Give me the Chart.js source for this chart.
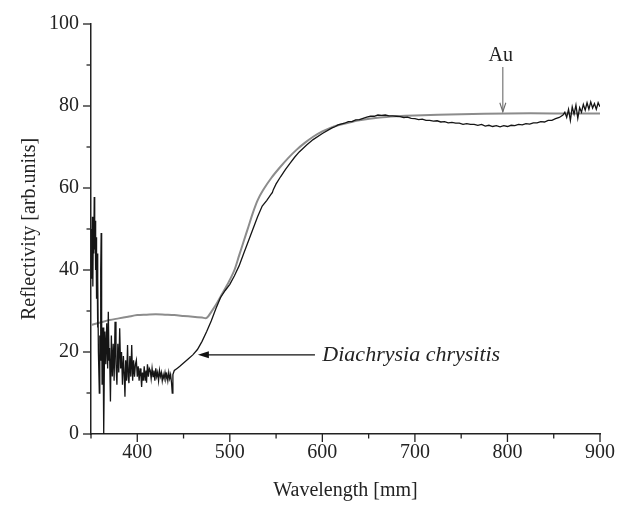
<!DOCTYPE html>
<html>
<head>
<meta charset="utf-8">
<script src="https://cdn.jsdelivr.net/npm/chart.js@4/dist/chart.umd.min.js"></script>
<style>
html,body{margin:0;padding:0;background:#fff;}
#wrap{width:624px;height:505px;position:relative;}
</style>
</head>
<body>
<div id="wrap"><canvas id="c" width="624" height="505"></canvas></div>
<script>
// ---- Data ----
const xAxisTitle = "Wavelength [mm]";
const yAxisTitle = "Reflectivity [arb.units]";
const xTickLabels = [400, 500, 600, 700, 800, 900];
const yTickLabels = [0, 20, 40, 60, 80, 100];

const seriesNames = ["Diachrysia chrysitis", "Au"];

// Diachrysia chrysitis (black, measured)
const wlSample = [
350,350.5,351,351.5,352,352.5,353,353.5,354,354.5,
355,355.5,356,356.5,357,357.5,358,359,359.5,360,
360.5,361,361.5,362,363,363.5,364,364.5,365,366,
367,368,368.7,369.5,370,371,372,373,374,375,
376,377,378,379,380,381,382,383,384,385,
386,386.7,387.5,388.5,389.5,390.3,391,392,393,394,
395,396,397,398,399,400,401,402,403,404,
404.7,405.5,406.5,407.5,408.5,409.5,410,411,412,413,
414,415,416,417,418,419,420,421,422,423,
424,425,426,427,428,429,430,431,432,433,
434,435,436,437,437.8,438.5,440,443,446,450,
455,460,465,470,475,480,485,490,495,500,
505,510,515,520,525,530,535,540,545,546,
547,550,555,560,565,570,575,583,590,600,
610,614,617,620,624,628,632,636,640,644,
648,652,656,660,664,668,672,676,680,684,
688,692,696,700,704,708,712,716,720,724,
728,732,736,740,744,748,752,756,760,764,
768,772,776,780,784,788,792,796,800,804,
808,812,816,820,824,828,832,836,840,844,
848,852,856,860,862,864,866,868,870,872,
874,876,878,880,882,884,886,888,890,892,
894,896,898,900
];
const reflSample = [
38,50,42,53,36,51,44,57.8,45,52,
40,48,33,44,26,38,20,10,24,18,
40,49,28,12,26,14,0,18,25,17,
27,16,29.8,18,21,7.9,24,14,22,13,
27.4,17,12,22,15,25.8,16,20,12,19,
14,9.1,18,13,21.7,14,12.4,19,14,21.7,
13,18,14,17,18,14,16.5,13,16,14,
11.5,15,13,16.5,13,15.5,12.5,17,14,16,
15.5,13.5,16,14,15.5,13,16,14,15,13,
15.5,14,15,13,14.5,13.5,15,13.5,14.5,13,
15,13.5,14.5,12.5,10,14.5,15.5,16,16.5,17.3,
18.3,19.3,20.6,22.6,25,27.6,30.6,33.3,35,36.5,
38.6,41,44,47,50,53,55.6,57,58.6,58.9,
59.6,61,62.8,64.5,66,67.5,68.8,70.5,71.8,73.3,
74.6,75.0,75.4,75.6,75.8,76.2,76.2,76.6,76.7,77.0,
77.3,77.5,77.5,77.8,77.7,77.8,77.6,77.6,77.5,77.4,
77.2,77.3,77.0,76.9,76.7,76.8,76.5,76.5,76.3,76.4,
76.1,76.2,75.9,76.0,75.8,75.8,75.5,75.7,75.5,75.5,
75.3,75.5,75.1,75.3,75.0,75.2,74.9,75.2,75.0,75.3,
75.2,75.5,75.4,75.7,75.6,75.9,75.9,76.2,76.1,76.5,
76.5,76.9,77.2,77.8,78.5,77.2,79.2,76.5,79.8,78,
80.2,77,79.6,78.5,80.4,79,80.8,79.2,81,79.5,
80.6,79.2,80.8,79.8
];

// Au reference (grey)
const wlAu = [350,360,370,380,390,400,410,420,430,440,450,460,470,475,480,485,490,495,500,505,
510,515,520,525,530,536,545,554,563,572,581,590,600,608,617,626,640,662,680,700,750,800,850,900];
const reflAu = [26.6,27.2,27.8,28.2,28.6,29.0,29.1,29.2,29.1,29.0,28.8,28.6,28.4,28.3,29.8,31.5,33.5,35.5,37.6,40,
43.5,47,50.5,54,57,59.5,62.5,65,67.3,69.3,71,72.5,73.8,74.6,75.3,75.8,76.5,77.2,77.5,77.7,78,78.2,78.2,78.2];

// Annotations (data coordinates)
const auLabel = "Au";
const auArrowX = 795, auArrowFrom = 89.5, auArrowTo = 78.6, auLabelY = 92.3;
const sampleLabel = "Diachrysia chrysitis";
const sampleArrowY = 19.3, sampleArrowFrom = 592, sampleArrowTo = 465.5, sampleLabelX = 600;

// ---- Build ----
const pts = (xs, ys) => xs.map((x, i) => ({x: x, y: ys[i]}));
const FONT = "'Liberation Serif','Times New Roman',serif";
const TXT = '#232323';

const tickPlugin = {
  id: 'ticksAndNotes',
  afterDraw(chart) {
    const ctx = chart.ctx;
    const xs = chart.scales.x, ys = chart.scales.y;
    ctx.save();
    ctx.strokeStyle = '#222';
    ctx.lineWidth = 1.3;
    xs.ticks.forEach(t => {
      const px = xs.getPixelForValue(t.value);
      const len = xTickLabels.includes(t.value) ? 8 : 4.5;
      ctx.beginPath(); ctx.moveTo(px, xs.top); ctx.lineTo(px, xs.top + len); ctx.stroke();
    });
    ys.ticks.forEach(t => {
      const py = ys.getPixelForValue(t.value);
      const len = yTickLabels.includes(t.value) ? 8 : 4.5;
      ctx.beginPath(); ctx.moveTo(ys.right, py); ctx.lineTo(ys.right - len, py); ctx.stroke();
    });

    // Au arrow
    const ax = xs.getPixelForValue(auArrowX);
    const ay0 = ys.getPixelForValue(auArrowFrom);
    const ay1 = ys.getPixelForValue(auArrowTo);
    ctx.strokeStyle = '#6a6a6a';
    ctx.lineWidth = 1.1;
    ctx.beginPath(); ctx.moveTo(ax, ay0); ctx.lineTo(ax, ay1); ctx.stroke();
    ctx.beginPath(); ctx.moveTo(ax - 3, ay1 - 9); ctx.lineTo(ax, ay1); ctx.lineTo(ax + 3, ay1 - 9); ctx.stroke();
    ctx.fillStyle = TXT;
    ctx.font = "20px " + FONT;
    ctx.textAlign = 'center';
    ctx.textBaseline = 'middle';
    ctx.fillText(auLabel, ax - 2, ys.getPixelForValue(auLabelY));

    // Diachrysia arrow
    const by = ys.getPixelForValue(sampleArrowY);
    const bx0 = xs.getPixelForValue(sampleArrowFrom);
    const bx1 = xs.getPixelForValue(sampleArrowTo);
    ctx.strokeStyle = '#111';
    ctx.lineWidth = 1.4;
    ctx.beginPath(); ctx.moveTo(bx0, by); ctx.lineTo(bx1 + 6, by); ctx.stroke();
    ctx.fillStyle = '#111';
    ctx.beginPath(); ctx.moveTo(bx1, by); ctx.lineTo(bx1 + 11, by - 3.5); ctx.lineTo(bx1 + 11, by + 3.5); ctx.closePath(); ctx.fill();
    ctx.fillStyle = TXT;
    ctx.font = "italic 22px " + FONT;
    ctx.textAlign = 'left';
    ctx.textBaseline = 'middle';
    ctx.fillText(sampleLabel, xs.getPixelForValue(sampleLabelX), by);
    ctx.restore();
  }
};

new Chart(document.getElementById('c'), {
  type: 'line',
  data: {
    datasets: [
      {
        label: seriesNames[1],
        data: pts(wlAu, reflAu),
        borderColor: '#8c8c8c',
        borderWidth: 2,
        pointRadius: 0,
        tension: 0.3,
        order: 2
      },
      {
        label: seriesNames[0],
        data: pts(wlSample, reflSample),
        borderColor: '#151515',
        borderWidth: 1.3,
        pointRadius: 0,
        tension: 0,
        order: 1
      }
    ]
  },
  options: {
    responsive: false,
    animation: false,
    events: [],
    layout: { padding: { top: 24, right: 24, left: 0, bottom: 0 } },
    plugins: { legend: { display: false }, tooltip: { enabled: false } },
    scales: {
      x: {
        type: 'linear',
        min: 350, max: 900,
        afterFit: s => { s.height = 71; },
        border: { display: true, color: '#222', width: 1.5 },
        grid: { display: true, drawOnChartArea: false, drawTicks: false },
        ticks: {
          stepSize: 50, autoSkip: false, maxRotation: 0, padding: 7,
          color: TXT, font: { family: FONT, size: 20 },
          callback: v => xTickLabels.includes(v) ? String(v) : ''
        },
        title: { display: true, text: xAxisTitle, color: TXT, font: { family: FONT, size: 20 }, padding: { top: 0, bottom: 2 } }
      },
      y: {
        type: 'linear',
        min: 0, max: 100,
        afterFit: s => { s.width = 91; },
        border: { display: true, color: '#222', width: 1.5 },
        grid: { display: true, drawOnChartArea: false, drawTicks: false },
        ticks: {
          stepSize: 10, autoSkip: false, padding: 12,
          color: TXT, font: { family: FONT, size: 20 },
          callback: v => yTickLabels.includes(v) ? String(v) : ''
        },
        title: { display: true, text: yAxisTitle, color: TXT, font: { family: FONT, size: 20 }, padding: { top: 18, bottom: 0 } }
      }
    }
  },
  plugins: [tickPlugin]
});
</script>
</body>
</html>
